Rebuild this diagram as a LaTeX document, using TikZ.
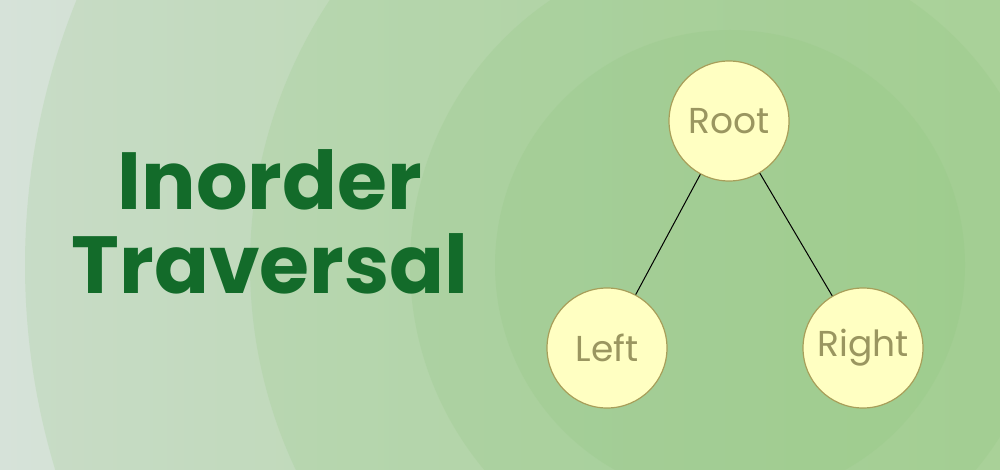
\documentclass[tikz,border=0pt]{standalone}
\usepackage{fontspec}
\setmainfont{Poppins}
\begin{document}
\begin{tikzpicture}[x=1pt,y=-1pt,
  tnode/.style={circle,draw=nodeb,fill=nodef,line width=1.2pt,minimum size=120pt,inner sep=0pt,text=nodet,font=\fontsize{36}{36}\selectfont},
  ring/.style={fill=ringc,fill opacity=0.18}]
\definecolor{bgl}{HTML}{D6E2D9}
\definecolor{bgr}{HTML}{B8D9A8}
\definecolor{ringc}{HTML}{8CC47A}
\definecolor{nodef}{HTML}{FFFFC2}
\definecolor{nodeb}{HTML}{A89F5A}
\definecolor{nodet}{HTML}{9A9660}
\definecolor{titlec}{HTML}{136B2A}
\useasboundingbox (0,0) rectangle (1000,470);
\begin{scope}
\clip (0,0) rectangle (1000,470);
\shade[left color=bgl,right color=bgr] (0,0) rectangle (1000,470);
\fill[ring] (730,265) circle (705);
\fill[ring] (730,265) circle (480);
\fill[ring] (730,265) circle (320);
\fill[ring] (730,265) circle (235);
\end{scope}
\node[font=\bfseries\fontsize{81}{84}\selectfont,text=titlec,align=center] (title) at (270,222) {Inorder\\Traversal};
\node[tnode] (root) at (729,121) {Root};
\node[tnode] (left) at (607,348) {Left};
\node[tnode] (right) at (863,348) {Right};
\draw[line width=1pt] (root) -- (left);
\draw[line width=1pt] (root) -- (right);
\end{tikzpicture}
\end{document}
